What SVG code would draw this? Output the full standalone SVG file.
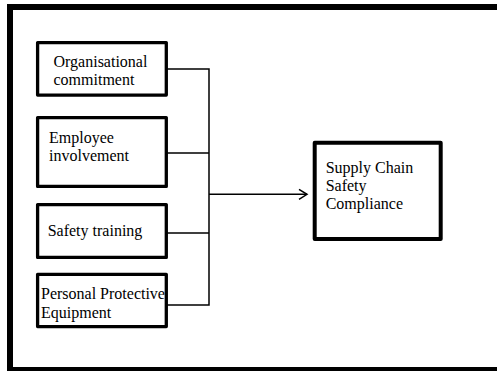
<svg xmlns="http://www.w3.org/2000/svg" width="497" height="371" viewBox="0 0 497 371">
<style>
.box{fill:#fff;stroke:#000;stroke-width:3.3;stroke-linejoin:round}
.tbox{fill:#fff;stroke:#000;stroke-width:4;stroke-linejoin:round}
.t{font-family:"Liberation Serif","Times New Roman",serif;font-size:16px;fill:#000}
.c{fill:none;stroke:#000;stroke-width:1.5}
</style>
<defs>
<marker id="arr" markerWidth="12" markerHeight="12" refX="9" refY="6" orient="auto" markerUnits="userSpaceOnUse">
<path d="M1,1 L9,6 L1,11" fill="none" stroke="#000" stroke-width="1.5"/>
</marker>
</defs>
<rect x="0" y="0" width="497" height="371" fill="#fff"/>
<path d="M520,7 H10 V370 H520" fill="none" stroke="#000" stroke-width="6"/>
<g id="connectors">
<path class="c" d="M167,69 H209 M167,153 H209 M167,233 H209 M167,305 H209 M209,68.3 V305.7"/>
<path class="c" d="M209,194.3 H307" marker-end="url(#arr)"/>
</g>
<g id="n1">
<rect class="box" x="37.6" y="42.6" width="128.7" height="52.5"/>
<text class="t" x="53.5" y="66.5">Organisational</text>
<text class="t" x="53.5" y="85">commitment</text>
</g>
<g id="n2">
<rect class="box" x="37.6" y="117.6" width="128.7" height="68.8"/>
<text class="t" x="49" y="142.7">Employee</text>
<text class="t" x="49" y="161">involvement</text>
</g>
<g id="n3">
<rect class="box" x="37.6" y="204.6" width="128.7" height="52.8"/>
<text class="t" x="47.7" y="236">Safety training</text>
</g>
<g id="n4">
<rect class="box" x="37.6" y="274.3" width="128.7" height="52.3"/>
<text class="t" x="41" y="299">Personal Protective</text>
<text class="t" x="41" y="317.7">Equipment</text>
</g>
<g id="n5">
<rect class="tbox" x="314.7" y="142.7" width="126" height="96.3"/>
<text class="t" x="325.7" y="172.7">Supply Chain</text>
<text class="t" x="325.7" y="190.9">Safety</text>
<text class="t" x="325.7" y="209.3">Compliance</text>
</g>
</svg>
